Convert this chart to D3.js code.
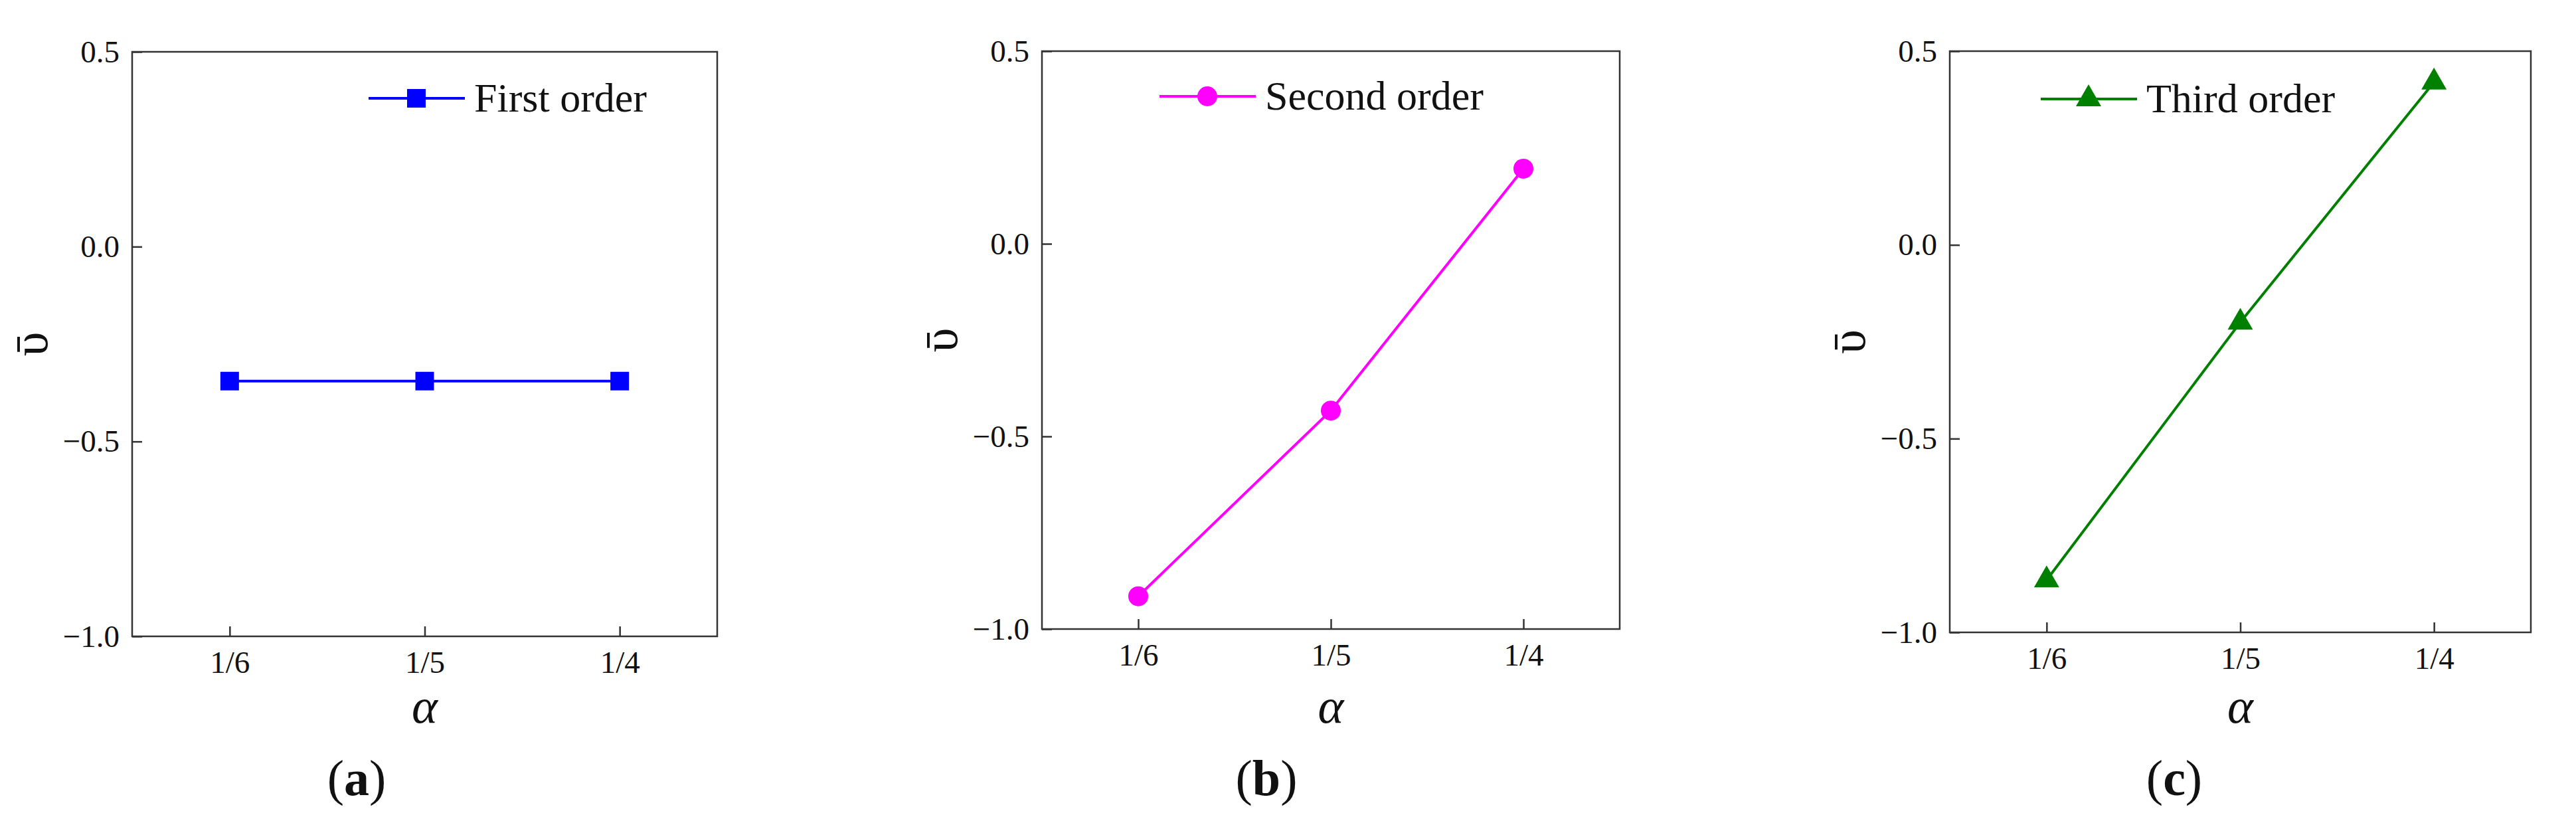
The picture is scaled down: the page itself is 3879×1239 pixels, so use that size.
<!DOCTYPE html>
<html>
<head>
<meta charset="utf-8">
<script src="https://cdn.jsdelivr.net/npm/d3@7"></script>
<style>
  html, body { margin: 0; padding: 0; background: #fff; }
  svg { display: block; }
</style>
</head>
<body>
<svg id="chart" width="3879" height="1239"></svg>
<script>
// ---- data ----
const categories = ["1/6", "1/5", "1/4"];
const firstOrder = [-0.345, -0.345, -0.345];
const secondOrder = [-0.915, -0.433, 0.195];
const thirdOrder = [-0.865, -0.2, 0.42];
const yTicks = [-1.0, -0.5, 0.0, 0.5];
const yTickLabels = ["\u22121.0", "\u22120.5", "0.0", "0.5"];
const seriesNames = ["First order", "Second order", "Third order"];
const captions = ["(a)", "(b)", "(c)"];
const xLabel = "\u03B1";
const yLabel = "\u1FE1";

// ---- layout / style ----
const FONT = "'Liberation Serif','Times New Roman',Times,serif";
const GREEK_FONT = "'Liberation Serif','DejaVu Serif',serif";
const panels = [
  { x0: 199, x1: 1080, y0: 78, y1: 958, legX: 555, legY: 148, color: "#0000FF", symbol: d3.symbolSquare, size: 784, values: firstOrder },
  { x0: 1569, x1: 2439, y0: 77, y1: 947, legX: 1746, legY: 145, color: "#FF00FF", symbol: d3.symbolCircle, size: 707, values: secondOrder },
  { x0: 2936, x1: 3811, y0: 77, y1: 952, legX: 3073, legY: 149, color: "#008000", symbol: d3.symbolTriangle, size: 625, values: thirdOrder }
];

const svg = d3.select("#chart");

panels.forEach((p, i) => {
  const g = svg.append("g");
  const x = d3.scalePoint().domain(categories).range([p.x0, p.x1]).padding(0.5);
  const y = d3.scaleLinear().domain([-1.0, 0.5]).range([p.y1, p.y0]);

  // y axis (inward ticks)
  const yAxis = d3.axisLeft(y).tickValues(yTicks)
    .tickFormat((d, k) => yTickLabels[k])
    .tickSizeInner(-15).tickSizeOuter(0).tickPadding(19);
  const ya = g.append("g").attr("transform", `translate(${p.x0},0)`).call(yAxis)
    .attr("font-family", FONT).attr("font-size", 47);
  ya.select(".domain").remove();
  ya.selectAll(".tick line").attr("stroke", "#333").attr("stroke-width", 2.5);
  ya.selectAll(".tick text").style("font-family", FONT).style("font-size", "47px").attr("fill", "#111");

  // x axis (inward ticks)
  const xAxis = d3.axisBottom(x).tickSizeInner(-15).tickSizeOuter(0).tickPadding(22);
  const xa = g.append("g").attr("transform", `translate(0,${p.y1})`).call(xAxis)
    .attr("font-family", FONT).attr("font-size", 47);
  xa.select(".domain").remove();
  xa.selectAll(".tick line").attr("stroke", "#333").attr("stroke-width", 2.5);
  xa.selectAll(".tick text").style("font-family", FONT).style("font-size", "47px").attr("fill", "#111");

  // frame
  g.append("rect")
    .attr("x", p.x0).attr("y", p.y0)
    .attr("width", p.x1 - p.x0).attr("height", p.y1 - p.y0)
    .attr("fill", "none").attr("stroke", "#333").attr("stroke-width", 2.5);

  // data line
  const line = d3.line().x((d, k) => x(categories[k])).y(d => y(d));
  g.append("path").datum(p.values)
    .attr("d", line).attr("fill", "none")
    .attr("stroke", p.color).attr("stroke-width", 4);

  // markers
  const sym = d3.symbol().type(p.symbol).size(p.size);
  g.selectAll(".mk").data(p.values).enter().append("path")
    .attr("d", sym)
    .attr("transform", (d, k) => `translate(${x(categories[k])},${y(d)})`)
    .attr("fill", p.color);

  // legend
  g.append("line")
    .attr("x1", p.legX).attr("x2", p.legX + 145)
    .attr("y1", p.legY).attr("y2", p.legY)
    .attr("stroke", p.color).attr("stroke-width", 4);
  g.append("path").attr("d", sym)
    .attr("transform", `translate(${p.legX + 72},${p.legY})`)
    .attr("fill", p.color);
  g.append("text")
    .attr("x", p.legX + 159).attr("y", p.legY + 20)
    .style("font-family", FONT).attr("font-size", 62).attr("fill", "#111")
    .text(seriesNames[i]);

  // axis titles
  g.append("text")
    .attr("x", (p.x0 + p.x1) / 2).attr("y", 1088)
    .attr("text-anchor", "middle")
    .style("font-family", GREEK_FONT).attr("font-style", "italic").attr("font-size", 74).attr("fill", "#111")
    .text(xLabel);
  g.append("text")
    .attr("transform", `translate(${p.x0 - 154},${(p.y0 + p.y1) / 2}) rotate(-90)`)
    .attr("text-anchor", "middle").attr("dy", "0.35em")
    .style("font-family", GREEK_FONT).attr("font-size", 74).attr("fill", "#111")
    .text(yLabel);

  // caption
  const cap = g.append("text")
    .attr("x", p.x0 + 338).attr("y", 1197)
    .attr("text-anchor", "middle")
    .style("font-family", FONT).attr("font-size", 76).attr("fill", "#111");
  cap.append("tspan").text("(");
  cap.append("tspan").attr("font-weight", "bold").text(captions[i].slice(1, -1));
  cap.append("tspan").text(")");
});
</script>
</body>
</html>
